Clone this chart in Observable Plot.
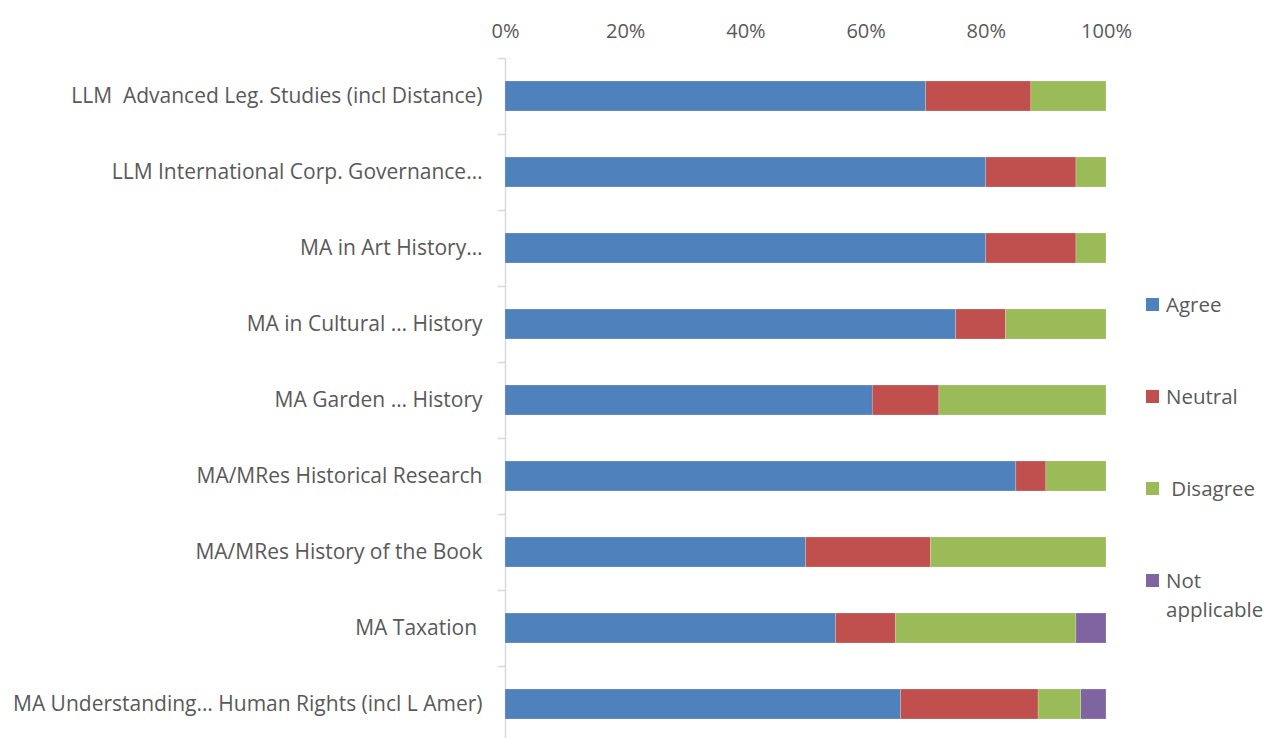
<!DOCTYPE html>
<html><head><meta charset="utf-8">
<script src="https://cdn.jsdelivr.net/npm/d3@7"></script>
<script src="https://cdn.jsdelivr.net/npm/@observablehq/plot@0.6"></script>
<style>
body{margin:0;background:#fff;font-family:"Open Sans",sans-serif;}
#wrap{position:relative;width:1268px;height:738px;overflow:hidden}
#legend{position:absolute;left:1146px;top:291px;color:#595959;font-size:20.5px;font-family:"Open Sans",sans-serif}
.item{height:92px;display:flex;align-items:flex-start}
.sw{width:13px;height:13px;margin-top:7px;margin-right:7px;flex:none}
.lab{line-height:26px;width:120px}
.lab.two{line-height:29px;margin-top:-1.5px}
</style></head><body><div id="wrap"></div>
<script>
const programmes = [
  "LLM  Advanced Leg. Studies (incl Distance)",
  "LLM International Corp. Governance…",
  "MA in Art History…",
  "MA in Cultural … History",
  "MA Garden … History",
  "MA/MRes Historical Research",
  "MA/MRes History of the Book",
  "MA Taxation\u00a0",
  "MA Understanding… Human Rights (incl L Amer)"
];
const responses = ["Agree", "Neutral", "Disagree", "Not applicable"];
const legendLabels = ["Agree", "Neutral", "\u00a0Disagree", "Not applicable"];
const colors = ["#4F81BD", "#C0504D", "#9BBB59", "#8064A2"];
const agree =         [70,   80, 80, 75,   61.1, 85, 50,   55, 65.8];
const neutral =       [17.5, 15, 15, 8.3,  11.1, 5,  20.8, 10, 22.9];
const disagree =      [12.5, 5,  5,  16.7, 27.8, 10, 29.2, 30, 7.1];
const notApplicable = [0,    0,  0,  0,    0,    0,  0,    5,  4.2];
const xTicks = [0, 20, 40, 60, 80, 100];

const series = [agree, neutral, disagree, notApplicable];
const rows = programmes.flatMap((p, i) =>
  responses.map((r, j) => ({programme: p, response: r, value: series[j][i]}))
);

const chart = Plot.plot({
  width: 1268,
  height: 738,
  marginTop: 58,
  marginBottom: 0,
  marginLeft: 505,
  marginRight: 162,
  x: {domain: [0, 100], axis: null, label: null},
  y: {domain: programmes, range: [58, 742], paddingInner: 0.6, paddingOuter: 0.3, axis: null, label: null},
  color: {domain: responses, range: colors},
  style: {fontFamily: "'Open Sans', sans-serif", fontSize: "20px", color: "#595959", background: "#fff"},
  marks: [
    Plot.axisX(xTicks, {anchor: "top", tickSize: 0, tickPadding: 21, tickFormat: d => d + "%", fontSize: 20, fill: "#595959", label: null}),
    Plot.axisY({anchor: "left", tickSize: 0, tickPadding: 23, fontSize: 21, fill: "#595959", label: null}),
    Plot.ruleY(programmes, {y: d => d, x1: -1.2, x2: 0, dy: -38, stroke: "#d9d9d9", strokeWidth: 1.5}),
    Plot.ruleX([0], {stroke: "#d9d9d9", strokeWidth: 1.5}),
    Plot.barX(rows, {y: "programme", x: "value", fill: "response", stroke: "#fff", strokeOpacity: 0.4, strokeWidth: 0.5})
  ]
});

const wrap = document.getElementById("wrap");
wrap.appendChild(chart);

const legend = document.createElement("div");
legend.id = "legend";
responses.forEach((r, i) => {
  const item = document.createElement("div");
  item.className = "item";
  const sw = document.createElement("div");
  sw.className = "sw";
  sw.style.background = colors[i];
  const lab = document.createElement("div");
  lab.className = "lab" + (i === 3 ? " two" : "");
  lab.textContent = legendLabels[i];
  item.appendChild(sw);
  item.appendChild(lab);
  legend.appendChild(item);
});
wrap.appendChild(legend);
</script>
</body></html>
